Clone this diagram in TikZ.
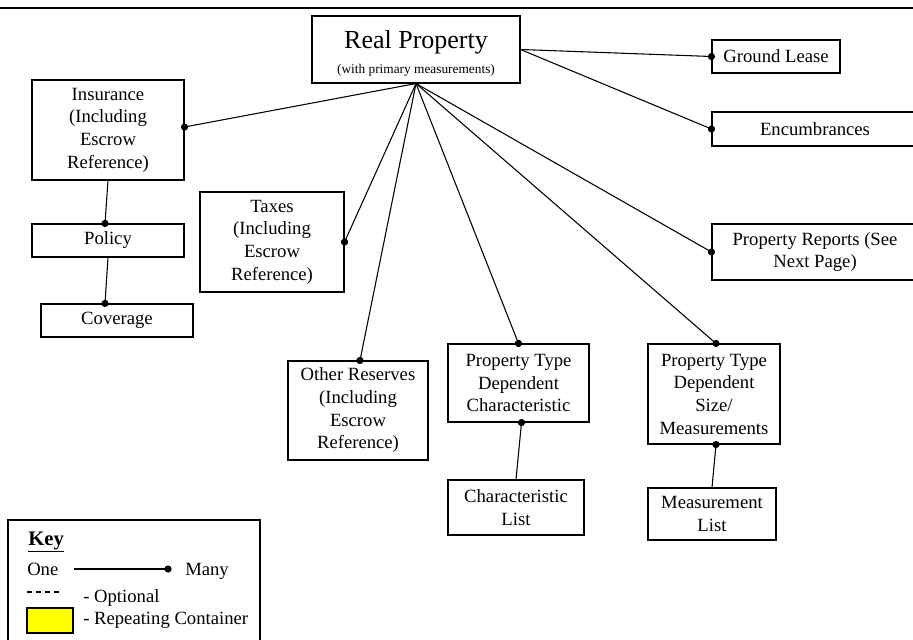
\documentclass[tikz,border=0pt]{standalone}
\usepackage{fontspec}
\setmainfont{Liberation Serif}
\usetikzlibrary{fit,calc,decorations.markings}

\definecolor{keyyellow}{RGB}{255,255,0}

\begin{document}
\begin{tikzpicture}[
  x=0.75pt, y=-0.75pt,
  box/.style={draw=black, line width=0.8pt, inner sep=0pt, align=center,
              font=\fontsize{14}{17}\selectfont},
  sized/.style 2 args={minimum width={#1*0.75pt}, minimum height={#2*0.75pt}},
  txt/.style={inner sep=0pt, font=\fontsize{14}{17}\selectfont},
  link/.style={draw=black, line width=0.8pt},
  manyend/.style={link, decoration={markings,
      mark=at position 1 with {\fill[black] (0,0) circle (2.7pt);}},
      postaction=decorate},
  manystart/.style={link, decoration={markings,
      mark=at position 0 with {\fill[black] (0,0) circle (2.7pt);}},
      postaction=decorate}
]
\useasboundingbox (0,0) rectangle (913,639);

% rule across the top of the page
\draw[line width=0.8pt] (0,8) -- (913,8);

% central entity
\node[box, sized={208}{67}] (rp) at (416,49.5) {};
\node[txt, anchor=base, font=\fontsize{19.5}{22}\selectfont] (rptitle) at (416,48) {Real Property};
\node[txt, anchor=base, font=\fontsize{10}{12}\selectfont] (rpsub) at (416,73) {(with primary measurements)};

% related entities
\node[box, sized={128}{33}] (gl)  at (776,56.5) {Ground Lease};
\node[box, sized={206}{34}] (enc) at (815,129) {Encumbrances};
\node[box, sized={206}{56}] (pr)  at (815,252) {Property Reports (See\\Next Page)};
\node[box, sized={152}{100}] (ins) at (108,130) {Insurance\\(Including\\Escrow\\Reference)};
\node[box, sized={152}{33}] (pol) at (108,240.5) {Policy};
\node[box, sized={152}{33}] (cov) at (117,320.5) {Coverage};
\node[box, sized={144}{100}] (tax) at (272,242) {Taxes\\(Including\\Escrow\\Reference)};
\node[box, sized={140}{99}] (oth) at (358,410.5) {Other Reserves\\(Including\\Escrow\\Reference)};
\node[box, sized={141}{78}] (ptc) at (518.5,383) {Property Type\\Dependent\\Characteristic};
\node[box, sized={136}{55}] (cl)  at (516,507.5) {Characteristic\\List};
\node[box, sized={132}{100}] (pts) at (714,394) {Property Type\\Dependent\\Size/\\Measurements};
\node[box, sized={128}{52}] (ml)  at (712,514) {Measurement\\List};

% one-to-many connectors
\path[manyend] (rp.east) -- (gl.west);
\path[manyend] (rp.east) -- (enc.west);
\path[manyend] (rp.south) -- ($(ins.east)+(0,-3)$);
\path[manyend] (rp.south) -- (tax.east);
\path[manyend] (rp.south) -- ($(oth.north)+(2,0)$);
\path[manyend] (rp.south) -- (ptc.north);
\path[manyend] (rp.south) -- ($(pts.north)+(2,0)$);
\path[manyend] (rp.south) -- (pr.west);
\path[manyend] (ins.south) -- ($(pol.north)+(-3,0)$);
\path[manyend] (pol.south) -- ($(cov.north)+(-12,0)$);
\path[manystart] ($(ptc.south)+(3,0)$) -- (cl.north);
\path[manystart] ($(pts.south)+(2,0)$) -- (ml.north);

% key
\node[draw=black, line width=0.8pt, inner sep=0pt, fit={(8,520) (260,650)}] (key) {};
\node[txt, anchor=base west, font=\fontsize{15.5}{18}\selectfont\bfseries] (keytitle) at (28,545) {\underline{Key}};
\node[txt, anchor=base west] (one) at (27,575) {One};
\node[txt, anchor=base west] (many) at (185,575) {Many};
\coordinate (kl1) at (74,569);
\coordinate (kl2) at (168,569);
\path[manyend] (kl1) -- (kl2);
\coordinate (kd1) at (27,592);
\coordinate (kd2) at (61,592);
\draw[line width=0.8pt, dash pattern=on 3.75pt off 3pt] (kd1) -- (kd2);
\node[txt, anchor=base west] (optional) at (83,602) {- Optional};
\node[draw=black, line width=0.8pt, fill=keyyellow, inner sep=0pt, fit={(27,608) (73,633)}] (yellowbox) {};
\node[txt, anchor=base west] (repeating) at (83,624) {- Repeating Container};
\end{tikzpicture}
\end{document}
